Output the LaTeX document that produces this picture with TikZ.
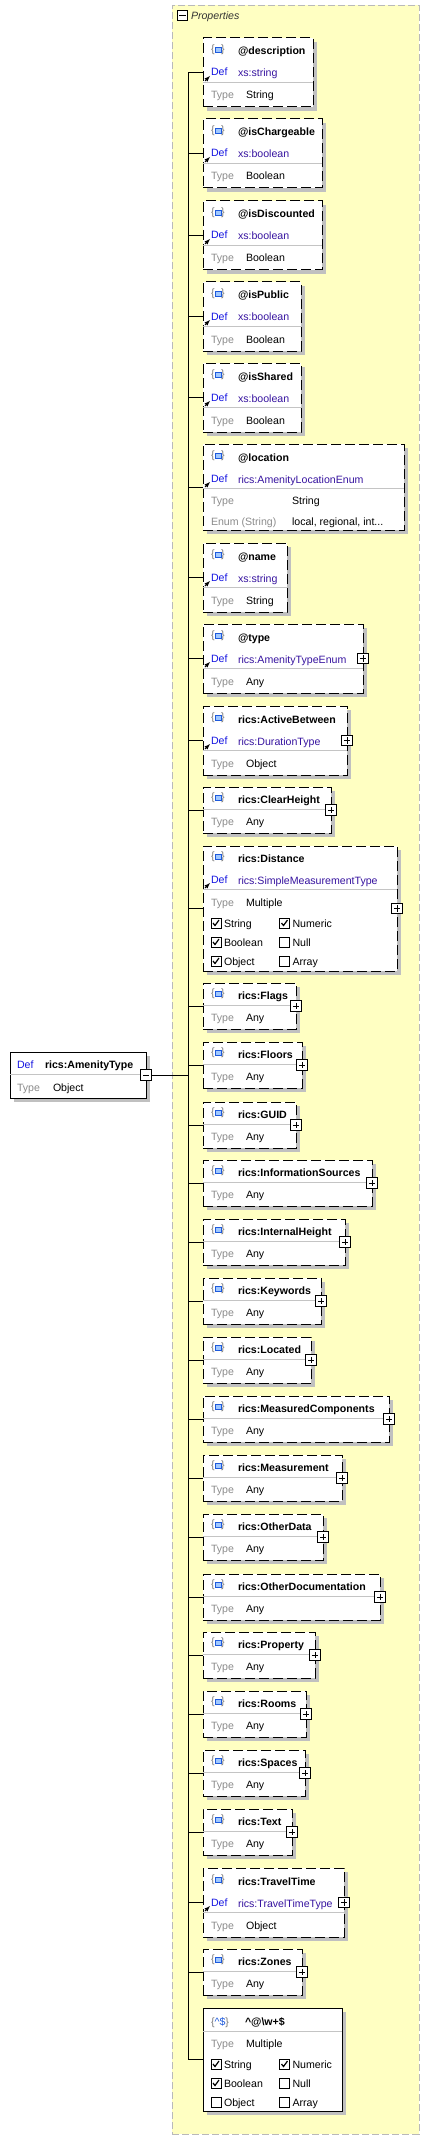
\documentclass[tikz,border=0pt]{standalone}
\usepackage{fontspec}
\setmainfont{Liberation Sans}
\usetikzlibrary{shadows,positioning}

\definecolor{propyellow}{RGB}{255,255,194}
\definecolor{propborder}{RGB}{185,185,185}
\definecolor{shadowgray}{RGB}{192,192,192}
\definecolor{divgray}{RGB}{196,196,196}
\definecolor{deflbl}{RGB}{20,20,225}
\definecolor{defval}{RGB}{55,20,160}
\definecolor{typelbl}{RGB}{140,140,140}
\definecolor{bracegray}{RGB}{120,120,120}
\definecolor{iconblue}{RGB}{30,90,220}
\definecolor{iconfill}{RGB}{160,200,255}

\begin{document}
\begin{tikzpicture}[x=1pt, y=-1pt, font=\fontsize{10.6}{13}\selectfont]
\tikzset{ >=latex, inner sep=0pt, outer sep=0pt,
  box/.style={draw, fill=white, line width=1pt, anchor=north west,
    drop shadow={shadow xshift=4pt, shadow yshift=-4pt, opacity=1, fill=shadowgray}},
  optbox/.style={box, dash pattern=on 10pt off 4pt},
  divider/.style={divgray, line width=0.8pt},
  txt/.style={anchor=base west},
  deftxt/.style={txt, text=deflbl},
  valtxt/.style={txt, text=defval},
  typetxt/.style={txt, text=typelbl},
  plusbox/.style={draw, solid, fill=white, line width=0.8pt, minimum size=10.5pt,
    path picture={
      \draw ([yshift=-2pt]path picture bounding box.north) -- ([yshift=2pt]path picture bounding box.south);
      \draw ([xshift=2pt]path picture bounding box.west) -- ([xshift=-2pt]path picture bounding box.east);}},
  minusbox/.style={draw, solid, fill=white, line width=0.8pt, minimum size=10.5pt,
    path picture={
      \draw ([xshift=2pt]path picture bounding box.west) -- ([xshift=-2pt]path picture bounding box.east);}},
  cbox/.style={draw, fill=white, line width=0.6pt, minimum size=10pt},
  elicon/.pic={
    \node [text=bracegray] at (-5,0) {\{};
    \node [text=bracegray] at (5,0) {\}};
    \draw [iconblue, fill=iconfill, line width=0.8pt] (-3,-2.5) rectangle (3,2.5);
  },
}

\useasboundingbox (0,0) rectangle (430,2140);

%%% Properties

\node [draw=propborder, fill=propyellow, dash pattern=on 7pt off 3pt, line width=0.8pt,
  anchor=north west, minimum width=247pt, minimum height=2129pt] (props) at (172,5) { };
\node [minusbox] (propsM) at (182.5,15.5) { };
\node [txt, text=black!80] (propsT) at (191,20) {\itshape Properties};
\coordinate (trunk) at (188,0);

%%% Blocos

% rics:AmenityType
\node [box, minimum width=136pt, minimum height=46pt] (main) at (10,1052) { };
\draw [divider] (10,1074) -- (146,1074);
\node [deftxt] (mainDef) at (17,1068) {Def};
\node [txt] (mainNm) at (45,1068) {\textbf{rics:AmenityType}};
\node [typetxt] (mainTl) at (17,1091) {Type};
\node [txt] (mainTv) at (53,1091) {Object};
\node [minusbox] (mainM) at (main.east) { };

% attributes and elements with a Def row
\foreach \id/\nm/\df/\ty/\t/\r/\pl in {
  descr/@description/xs:string/String/38/313/0,
  isChargeable/@isChargeable/xs:boolean/Boolean/119/322/0,
  isDiscounted/@isDiscounted/xs:boolean/Boolean/201/322/0,
  isPublic/@isPublic/xs:boolean/Boolean/282/301/0,
  isShared/@isShared/xs:boolean/Boolean/363/301/0,
  name/@name/xs:string/String/543/287/0,
  type/@type/rics:AmenityTypeEnum/Any/624/363/1,
  ActiveBetween/rics:ActiveBetween/rics:DurationType/Object/706/347/1,
  TravelTime/rics:TravelTime/rics:TravelTimeType/Object/1868/344/1}
{
  \node [optbox, minimum width={(\r-203)*1pt}, minimum height=69pt] (\id) at (203,\t) { };
  \draw [divider] (203,\t+44) -- (\r,\t+44);
  \pic at (218,\t+12) {elicon};
  \node [txt] (\id-nm) at (238,\t+17) {\textbf{\nm}};
  \node [deftxt] (\id-dl) at (211,\t+38) {Def};
  \node [valtxt] (\id-dv) at (238,\t+39) {\df};
  \draw [->, line width=0.9pt] (205,\t+43) -- (210,\t+38);
  \node [typetxt] (\id-tl) at (211,\t+61) {Type};
  \node [txt] (\id-tv) at (246,\t+61) {\ty};
  \ifnum\pl=1 \node [plusbox] (\id-p) at (\id.east) { }; \fi
}

% @location
\node [optbox, minimum width=201pt, minimum height=86pt] (location) at (203,444) { };
\draw [divider] (203,488) -- (404,488);
\pic at (218,456) {elicon};
\node [txt] (location-nm) at (238,461) {\textbf{@location}};
\node [deftxt] (location-dl) at (211,482) {Def};
\node [valtxt] (location-dv) at (238,483) {rics:AmenityLocationEnum};
\draw [->, line width=0.9pt] (205,487) -- (210,482);
\node [typetxt] (location-tl) at (211,504) {Type};
\node [txt] (location-tv) at (292,504) {String};
\node [typetxt] (location-el) at (211,525) {Enum (String)};
\node [txt] (location-ev) at (292,525) {local, regional, int...};

% rics:Distance
\node [optbox, minimum width=194pt, minimum height=125pt] (Distance) at (203,846) { };
\draw [divider] (203,889) -- (397,889);
\pic at (218,857) {elicon};
\node [txt] (Distance-nm) at (238,862) {\textbf{rics:Distance}};
\node [deftxt] (Distance-dl) at (211,883) {Def};
\node [valtxt] (Distance-dv) at (238,884) {rics:SimpleMeasurementType};
\draw [->, line width=0.9pt] (205,888) -- (210,883);
\node [typetxt] (Distance-tl) at (211,906) {Type};
\node [txt] (Distance-tv) at (246,906) {Multiple};
\node [plusbox] (Distance-p) at (Distance.east) { };
\foreach \lbl/\cx/\cy/\on in {String/216/923/1, Numeric/284.5/923/1, Boolean/216/942/1,
  Null/284.5/942/0, Object/216/961/1, Array/284.5/961/0}
{
  \node [cbox] (Distance-\lbl) at (\cx,\cy) { };
  \node [txt] (Distance-\lbl-t) at (\cx+8,\cy+4) {\lbl};
  \ifnum\on=1
    \draw [line width=1.2pt] ([shift={(-3,0)}]Distance-\lbl.center) -- ([shift={(-1,2.5)}]Distance-\lbl.center) -- ([shift={(3,-3)}]Distance-\lbl.center);
  \fi
}

% elements of type Any
\foreach \id/\t/\r in {ClearHeight/787/331, Flags/983/296, Floors/1042/302, GUID/1102/296,
  InformationSources/1160/372, InternalHeight/1219/345, Keywords/1278/321, Located/1337/311,
  MeasuredComponents/1396/389, Measurement/1455/342, OtherData/1514/323,
  OtherDocumentation/1574/380, Property/1632/315, Rooms/1691/306, Spaces/1750/305,
  Text/1809/292, Zones/1949/302}
{
  \node [optbox, minimum width={(\r-203)*1pt}, minimum height=46pt] (\id) at (203,\t) { };
  \draw [divider] (203,\t+22) -- (\r,\t+22);
  \pic at (218,\t+11) {elicon};
  \node [txt] (\id-nm) at (238,\t+16) {\textbf{rics:\id}};
  \node [typetxt] (\id-tl) at (211,\t+38) {Type};
  \node [txt] (\id-tv) at (246,\t+38) {Any};
  \node [plusbox] (\id-p) at (\id.east) { };
}

% ^@\w+$
\node [box, minimum width=139pt, minimum height=103pt] (pattern) at (203,2008) { };
\draw [divider] (203,2031) -- (342,2031);
\node [txt, text=bracegray] (pattern-ic) at (211,2025) {\{\textcolor{iconblue}{\textasciicircum\$}\}};
\node [txt] (pattern-nm) at (245,2025) {\textbf{\textasciicircum @\textbackslash w+\$}};
\node [typetxt] (pattern-tl) at (211,2047) {Type};
\node [txt] (pattern-tv) at (246,2047) {Multiple};
\foreach \lbl/\cx/\cy/\on in {String/216/2064/1, Numeric/284.5/2064/1, Boolean/216/2083/1,
  Null/284.5/2083/0, Object/216/2102/0, Array/284.5/2102/0}
{
  \node [cbox] (pattern-\lbl) at (\cx,\cy) { };
  \node [txt] (pattern-\lbl-t) at (\cx+8,\cy+4) {\lbl};
  \ifnum\on=1
    \draw [line width=1.2pt] ([shift={(-3,0)}]pattern-\lbl.center) -- ([shift={(-1,2.5)}]pattern-\lbl.center) -- ([shift={(3,-3)}]pattern-\lbl.center);
  \fi
}

%%% Linhas

% AmenityType -> trunk
\draw [line width=1pt] (mainM.east) -- (mainM.east -| trunk);
\draw [line width=1pt] (descr.west -| trunk) -- (pattern.west -| trunk);

% trunk -> children
\foreach \id in {descr, isChargeable, isDiscounted, isPublic, isShared, location, name, type,
  ActiveBetween, ClearHeight, Distance, Flags, Floors, GUID, InformationSources, InternalHeight,
  Keywords, Located, MeasuredComponents, Measurement, OtherData, OtherDocumentation, Property,
  Rooms, Spaces, Text, TravelTime, Zones, pattern}
  \draw [line width=1pt] (\id.west -| trunk) -- (\id.west);

\end{tikzpicture}
\end{document}
